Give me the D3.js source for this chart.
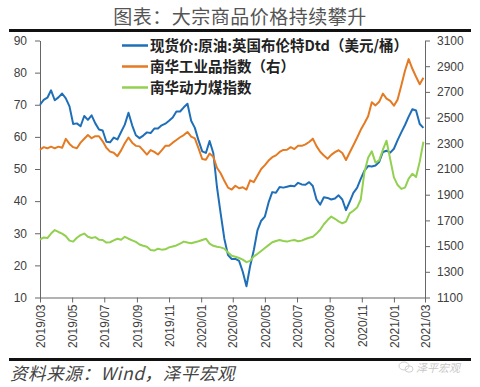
<!DOCTYPE html>
<html><head><meta charset="utf-8">
<script src="https://cdn.jsdelivr.net/npm/d3@7/dist/d3.min.js"></script>
<style>body{margin:0;background:#fff;} svg{display:block;}</style>
</head><body>
<svg id="c" width="480" height="387"></svg>
<script>
// ---- data ----
const startDate = "2019-03-01";   // first weekly observation
const stepDays = 7;
const endDate = "2021-03-01";

const brent = [
70.0,71.5,72.2,74.5,71.4,72.3,73.5,72.0,69.5,64.0,
64.2,63.3,66.5,65.3,66.7,64.2,62.3,62.0,58.5,58.3,
59.8,59.2,61.5,63.8,67.5,63.6,60.5,59.6,60.4,61.4,
61.2,62.6,62.6,63.6,64.1,65.0,66.0,67.9,67.9,69.2,
70.3,65.0,62.8,58.9,55.5,55.0,58.7,55.0,44.4,36.2,
28.3,23.2,22.0,22.0,21.4,18.0,13.5,19.8,24.8,31.0,
33.9,35.2,39.6,42.8,42.6,44.4,44.2,44.5,44.8,44.6,
45.7,45.2,45.1,45.9,44.7,40.5,38.9,41.2,41.0,40.5,
40.8,41.8,40.5,37.2,39.8,42.6,44.1,46.9,49.5,50.9,
50.8,51.1,52.2,55.3,55.7,55.1,56.3,59.0,61.4,63.7,
66.3,68.6,68.2,64.0,62.8];

const industrial = [
2250,2270,2261,2274,2261,2274,2265,2335,2295,2270,
2262,2305,2335,2365,2340,2355,2355,2315,2265,2235,
2226,2200,2245,2300,2345,2305,2280,2276,2245,2212,
2247,2233,2213,2245,2280,2280,2305,2326,2347,2364,
2388,2352,2338,2260,2178,2172,2220,2195,2110,2067,
2008,1955,1940,1970,1950,1958,1940,2012,1998,2050,
2100,2130,2166,2192,2206,2233,2248,2250,2270,2255,
2280,2280,2292,2310,2336,2278,2234,2205,2180,2210,
2231,2246,2225,2170,2228,2285,2343,2405,2456,2510,
2620,2595,2623,2687,2648,2630,2593,2640,2750,2865,
2955,2880,2818,2760,2810];

const coal = [
28.0,28.7,28.5,29.9,31.0,30.4,29.9,29.1,27.7,27.4,
28.6,29.4,29.9,28.9,28.5,28.8,28.0,27.9,27.1,27.2,
27.8,28.3,28.0,28.9,28.3,27.8,27.3,26.5,26.1,25.8,
24.8,24.6,25.2,24.9,25.0,25.6,25.9,26.2,26.8,27.4,
27.1,26.9,27.2,27.5,27.9,28.3,26.8,26.1,25.8,25.6,
25.2,24.0,23.0,22.7,22.3,21.8,21.0,21.4,22.8,23.6,
24.5,25.4,26.3,27.2,27.6,27.9,27.6,27.4,27.7,27.9,
27.5,27.7,28.2,28.6,28.9,29.9,31.1,32.8,34.1,35.2,
34.5,33.7,33.1,33.6,36.2,37.0,38.0,40.5,49.0,53.5,
55.5,52.0,52.7,56.0,58.8,53.0,47.4,45.0,43.8,44.2,
47.0,48.5,47.5,52.3,58.5];

const leftTicks = [10,20,30,40,50,60,70,80,90];
const rightTicks = [1100,1300,1500,1700,1900,2100,2300,2500,2700,2900,3100];
const xTickLabels = ["2019/03","2019/05","2019/07","2019/09","2019/11","2020/01","2020/03",
  "2020/05","2020/07","2020/09","2020/11","2021/01","2021/03"];
const seriesNames = ["现货价:原油:英国布伦特Dtd（美元/桶）","南华工业品指数（右）","南华动力煤指数"];
const seriesColors = ["#1f6fb8","#e47a22","#92d050"];
const titleText = "图表：大宗商品价格持续攀升";
const sourceText = "资料来源：Wind，泽平宏观";
const watermarkText = "泽平宏观";

// ---- scales ----
const svg = d3.select("#c");
const parse = d3.timeParse("%Y-%m-%d");
const t0 = parse(startDate);
const dates = brent.map((_, i) => d3.timeDay.offset(t0, i * stepDays));
const L = 40, R = 425, T = 40.5, B = 297.5;
const x = d3.scaleTime().domain([t0, parse(endDate)]).range([L, R]);
const yL = d3.scaleLinear().domain([10, 90]).range([B, T]);
const yR = d3.scaleLinear().domain([1100, 3100]).range([B, T]);

const tickFont = "'Liberation Sans', Arial, sans-serif";
const cjk = "'Noto Sans CJK SC', sans-serif";

// ---- title & rules ----
svg.append("text").attr("x", 240).attr("y", 24).attr("text-anchor", "middle")
  .attr("font-family", cjk).attr("font-size", 19).attr("fill", "#555")
  .attr("letter-spacing", 0.5).text(titleText);
svg.append("line").attr("x1", 9).attr("x2", 471).attr("y1", 30.5).attr("y2", 30.5)
  .attr("stroke", "#111").attr("stroke-width", 3);
svg.append("line").attr("x1", 9).attr("x2", 471).attr("y1", 359.5).attr("y2", 359.5)
  .attr("stroke", "#111").attr("stroke-width", 3);

// ---- axes ----
function styleAxis(g) {
  g.select(".domain").attr("stroke", "#666");
  g.selectAll(".tick line").attr("stroke", "#666");
  g.selectAll(".tick text").attr("fill", "#404040").attr("font-family", tickFont).attr("font-size", 12);
}
svg.append("g").attr("transform", `translate(${L},0)`)
  .call(d3.axisLeft(yL).tickValues(leftTicks).tickFormat(d3.format("d")).tickSize(5).tickSizeOuter(0).tickPadding(8))
  .call(styleAxis);
svg.append("g").attr("transform", `translate(${R},0)`)
  .call(d3.axisRight(yR).tickValues(rightTicks).tickFormat(d3.format("d")).tickSize(5).tickSizeOuter(0).tickPadding(7))
  .call(styleAxis);
const xParse = d3.timeParse("%Y/%m");
const xg = svg.append("g").attr("transform", `translate(0,${B})`)
  .call(d3.axisBottom(x).tickValues(xTickLabels.map(xParse)).tickFormat(d3.timeFormat("%Y/%m"))
    .tickSize(5).tickSizeOuter(0))
  .call(styleAxis);
xg.selectAll(".tick text").attr("transform", "rotate(-90)").attr("x", -7).attr("y", 0)
  .attr("dy", "0.35em").attr("text-anchor", "end");

// ---- lines ----
const lineL = d3.line().x((d, i) => x(dates[i])).y(d => yL(d));
const lineR = d3.line().x((d, i) => x(dates[i])).y(d => yR(d));
const plot = svg.append("g").attr("fill", "none").attr("stroke-width", 2).attr("stroke-linejoin", "round");
plot.append("path").attr("d", lineL(brent)).attr("stroke", seriesColors[0]);
plot.append("path").attr("d", lineL(coal)).attr("stroke", seriesColors[2]);
plot.append("path").attr("d", lineR(industrial)).attr("stroke", seriesColors[1]);

// ---- legend ----
const lg = svg.append("g");
seriesNames.forEach((name, i) => {
  const yy = 45.5 + i * 21;
  lg.append("line").attr("x1", 122).attr("x2", 148).attr("y1", yy).attr("y2", yy)
    .attr("stroke", seriesColors[i]).attr("stroke-width", 2.5);
  lg.append("text").attr("x", 150).attr("y", yy).attr("dy", "0.36em")
    .attr("font-family", cjk).attr("font-size", 14.5).attr("font-weight", "bold")
    .attr("fill", "#222").text(name);
});

// ---- source & watermark ----
svg.append("text").attr("x", 10).attr("y", 380).attr("font-family", cjk)
  .attr("font-size", 17.5).attr("font-style", "italic").attr("fill", "#444")
  .attr("letter-spacing", 0.6).text(sourceText);
const wm = svg.append("g").attr("opacity", 0.55);
wm.append("ellipse").attr("cx", 404).attr("cy", 366).attr("rx", 5).attr("ry", 4)
  .attr("fill", "none").attr("stroke", "#aaa");
wm.append("ellipse").attr("cx", 409).attr("cy", 369).attr("rx", 4).attr("ry", 3.2)
  .attr("fill", "none").attr("stroke", "#aaa");
wm.append("text").attr("x", 416).attr("y", 372).attr("font-family", cjk).attr("font-size", 11)
  .attr("font-style", "italic").attr("fill", "#999").text(watermarkText);
</script>
</body></html>
